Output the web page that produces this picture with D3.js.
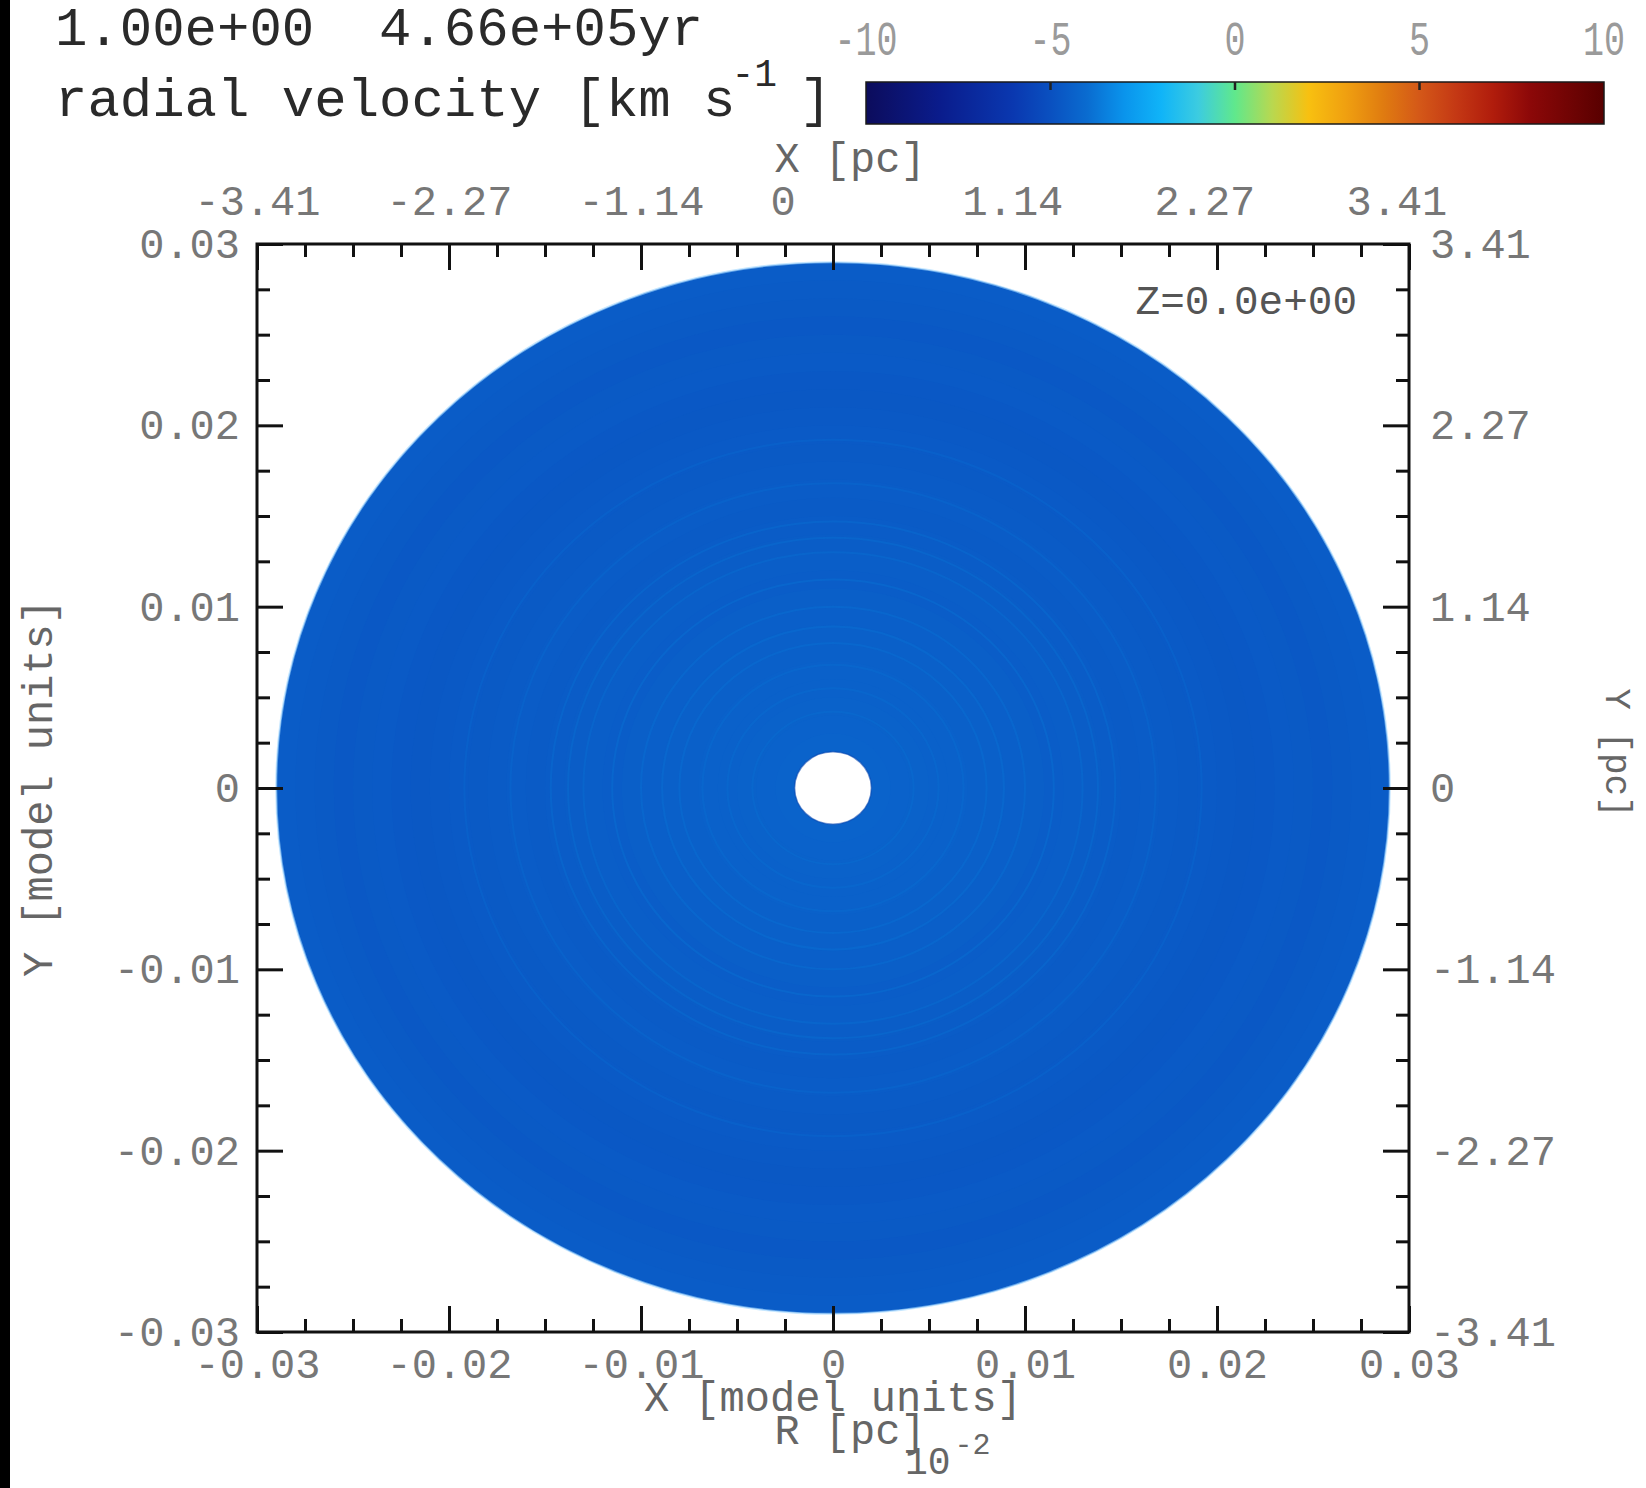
<!DOCTYPE html>
<html>
<head>
<meta charset="utf-8">
<script src="https://cdn.jsdelivr.net/npm/d3@7"></script>
<style>
  html, body { margin: 0; padding: 0; background: #ffffff; }
  svg { display: block; }
  text { font-family: "Liberation Mono", "Courier New", monospace; white-space: pre; }
</style>
</head>
<body>
<svg id="chart" width="1646" height="1488"></svg>
<script>
// ---- header texts ----
const stepLabel = "1.00e+00";
const timeLabel = "4.66e+05yr";
const quantityLabel = "radial velocity [km s";
const quantityExponent = "-1";
const sliceLabel = "Z=0.0e+00";

// ---- colour bar ----
const colorbarDomain = [-10, 10];
const colorbarTicks = [-10, -5, 0, 5, 10];
// velocity palette stops (km/s -> colour)
const paletteValues = [-10, -8, -6, -5, -4, -3, -2, -1, 0, 1, 2, 3, 4, 5, 6, 7, 8, 10];
const paletteColors = ["#0c0c5c", "#0a1c8c", "#0a38b0", "#0a50c0", "#0a6cd0", "#0a94ec",
                       "#10b4f8", "#3ccce0", "#60e88c", "#b8d850", "#f8c010", "#f0a010",
                       "#e07c10", "#d45818", "#c43814", "#b01c0c", "#8c0808", "#580000"];

// ---- axes ----
const modelDomain = [-0.03, 0.03];
const modelTicks = [-0.03, -0.02, -0.01, 0, 0.01, 0.02, 0.03];
const modelTickLabels = ["-0.03", "-0.02", "-0.01", "0", "0.01", "0.02", "0.03"];
const pcTickLabels = ["-3.41", "-2.27", "-1.14", "0", "1.14", "2.27", "3.41"];
const minorStep = 0.0025;

// ---- radial shells of the slice (model units, km/s) ----
const shellOuterRadius = [0.0290, 0.0280, 0.0270, 0.0260, 0.0250, 0.0240, 0.0230, 0.0220,
                          0.0210, 0.0200, 0.0190, 0.0180, 0.0170, 0.0160, 0.0150, 0.0140,
                          0.0130, 0.0120, 0.0110, 0.0100, 0.0090, 0.0080, 0.0070, 0.0060,
                          0.0050, 0.0040, 0.0030];
const shellVelocity = [-4.58, -4.62, -4.66, -4.70, -4.66, -4.64, -4.70, -4.72,
                       -4.68, -4.64, -4.66, -4.62, -4.58, -4.60, -4.56, -4.54,
                       -4.50, -4.52, -4.48, -4.46, -4.44, -4.42, -4.40, -4.38,
                       -4.36, -4.34, -4.32];
const holeRadius = 0.002;
// thin shell boundaries that read a little faster
const ringRadius = [0.0042, 0.0055, 0.0068, 0.0080, 0.0089, 0.0100, 0.0115, 0.0130,
                    0.0138, 0.0147, 0.0168, 0.0192];
const ringVelocity = [-4.00, -4.00, -4.00, -3.95, -3.95, -3.95, -3.95, -4.00,
                      -4.00, -4.05, -4.15, -4.20];

// ------------------------------------------------------------------
const svg = d3.select("#chart");
const W = 1646, H = 1488;
svg.append("rect").attr("width", W).attr("height", H).attr("fill", "#ffffff");
svg.append("rect").attr("x", 0).attr("y", 0).attr("width", 10).attr("height", H).attr("fill", "#000000");

const frame = { left: 257, right: 1409, top: 244, bottom: 1332 };
const x = d3.scaleLinear().domain(modelDomain).range([frame.left, frame.right]);
const y = d3.scaleLinear().domain(modelDomain).range([frame.bottom, frame.top]);
const color = d3.scaleLinear().domain(paletteValues).range(paletteColors)
  .interpolate(d3.interpolateRgb).clamp(true);

const INK = "#111111";
const LABEL = "#777777";
const TITLE = "#666666";

// ---- disk ----
const disk = svg.append("g");
const rx = r => x(r) - x(0);
const ry = r => y(0) - y(r);

disk.selectAll("ellipse.shell")
  .data(shellOuterRadius.map((r, i) => ({ r, v: shellVelocity[i] })))
  .join("ellipse")
  .attr("class", "shell")
  .attr("cx", x(0)).attr("cy", y(0))
  .attr("rx", d => rx(d.r)).attr("ry", d => ry(d.r))
  .attr("fill", d => color(d.v));

disk.selectAll("ellipse.ring")
  .data(ringRadius.map((r, i) => ({ r, v: ringVelocity[i] })))
  .join("ellipse")
  .attr("class", "ring")
  .attr("cx", x(0)).attr("cy", y(0))
  .attr("rx", d => rx(d.r)).attr("ry", d => ry(d.r))
  .attr("fill", "none")
  .attr("stroke", d => color(d.v))
  .attr("stroke-opacity", 0.55)
  .attr("stroke-width", 2);

// soft rim of the outer shell
disk.append("ellipse")
  .attr("cx", x(0)).attr("cy", y(0))
  .attr("rx", rx(shellOuterRadius[0])).attr("ry", ry(shellOuterRadius[0]))
  .attr("fill", "none").attr("stroke", "#9fd6ff").attr("stroke-width", 2).attr("stroke-opacity", 0.6);

// central hole
disk.append("ellipse")
  .attr("cx", x(0)).attr("cy", y(0))
  .attr("rx", rx(holeRadius)).attr("ry", ry(holeRadius))
  .attr("fill", "#ffffff").attr("stroke", "#0a48b0").attr("stroke-width", 1.5).attr("stroke-opacity", 0.6);

// ---- axes ----
const minorTicks = d3.range(modelDomain[0], modelDomain[1] + minorStep / 2, minorStep)
  .filter(v => !modelTicks.some(t => Math.abs(t - v) < 1e-9));
const fmtModel = v => modelTickLabels[modelTicks.findIndex(t => Math.abs(t - v) < 1e-9)];
const fmtPc = v => pcTickLabels[modelTicks.findIndex(t => Math.abs(t - v) < 1e-9)];
const TICK_FONT = 42;
const charW = TICK_FONT * 0.6;

function styleAxis(g) {
  g.attr("font-family", null).attr("font-size", null);
  g.select(".domain").remove();
  g.selectAll(".tick line").attr("stroke", INK).attr("stroke-width", 3);
  g.selectAll(".tick text").attr("fill", LABEL).attr("font-size", TICK_FONT);
}

function addAxis(axisFn, scale, transform, labelFmt, pad) {
  const major = svg.append("g").attr("transform", transform)
    .call(axisFn(scale).tickValues(modelTicks).tickSize(-26).tickPadding(pad).tickFormat(labelFmt));
  styleAxis(major);
  const minor = svg.append("g").attr("transform", transform)
    .call(axisFn(scale).tickValues(minorTicks).tickSize(-13).tickFormat(""));
  styleAxis(minor);
  return major;
}

addAxis(d3.axisBottom, x, `translate(0,${frame.bottom})`, fmtModel, 16);
const topAxis = addAxis(d3.axisTop, x, `translate(0,${frame.top})`, fmtPc, 29);
// top labels sit left-justified in a five-character field
topAxis.selectAll(".tick text").attr("text-anchor", "start").attr("x", -2.5 * charW);
addAxis(d3.axisLeft, y, `translate(${frame.left},0)`, fmtModel, 17);
addAxis(d3.axisRight, y, `translate(${frame.right},0)`, fmtPc, 21);

// frame
svg.append("rect")
  .attr("x", frame.left).attr("y", frame.top)
  .attr("width", frame.right - frame.left).attr("height", frame.bottom - frame.top)
  .attr("fill", "none").attr("stroke", INK).attr("stroke-width", 3);

// ---- axis titles ----
const cxFrame = (frame.left + frame.right) / 2;
const cyFrame = (frame.top + frame.bottom) / 2;
svg.append("text").attr("x", cxFrame + 17).attr("y", 172).attr("text-anchor", "middle")
  .attr("font-size", 42).attr("fill", TITLE).text("X [pc]");
svg.append("text").attr("x", cxFrame).attr("y", 1411).attr("text-anchor", "middle")
  .attr("font-size", 42).attr("fill", TITLE).text("X [model units]");
svg.append("text").attr("x", cxFrame + 17).attr("y", 1444).attr("text-anchor", "middle")
  .attr("font-size", 42).attr("fill", TITLE).text("R [pc]");
const sci = svg.append("text").attr("x", 905).attr("y", 1474).attr("font-size", 38).attr("fill", TITLE);
sci.append("tspan").text("10");
sci.append("tspan").attr("font-size", 30).attr("dy", -20).attr("dx", 4).text("-2");
svg.append("text")
  .attr("transform", `translate(52,${cyFrame}) rotate(-90)`)
  .attr("text-anchor", "middle").attr("font-size", 42).attr("fill", TITLE)
  .text("Y [model units]");
svg.append("text")
  .attr("transform", `translate(1606,${cyFrame - 35}) rotate(90)`)
  .attr("text-anchor", "middle").attr("font-size", 36).attr("fill", TITLE)
  .text("Y [pc]");
svg.append("text").attr("x", 1357).attr("y", 314).attr("text-anchor", "end")
  .attr("font-size", 41).attr("fill", "#555555").text(sliceLabel);

// ---- header ----
svg.append("text").attr("x", 55).attr("y", 45).attr("font-size", 54).attr("fill", "#2a2a2a")
  .text(stepLabel + "  " + timeLabel);
const q = svg.append("text").attr("x", 55).attr("y", 116).attr("font-size", 54).attr("fill", "#2a2a2a");
q.append("tspan").text(quantityLabel);
q.append("tspan").attr("font-size", 38).attr("dy", -30).attr("dx", -4).text(quantityExponent);
q.append("tspan").attr("dy", 30).attr("dx", 22).text("]");

// ---- colour bar ----
const cb = { left: 866, right: 1604, top: 82, bottom: 124 };
const cbx = d3.scaleLinear().domain(colorbarDomain).range([cb.left, cb.right]);
const grad = svg.append("defs").append("linearGradient").attr("id", "velocityGrad")
  .attr("x1", "0%").attr("x2", "100%").attr("y1", "0%").attr("y2", "0%");
grad.selectAll("stop").data(d3.range(0, 41).map(i => colorbarDomain[0] + i * 0.5))
  .join("stop")
  .attr("offset", v => ((v - colorbarDomain[0]) / (colorbarDomain[1] - colorbarDomain[0]) * 100) + "%")
  .attr("stop-color", v => color(v));
svg.append("rect")
  .attr("x", cb.left).attr("y", cb.top)
  .attr("width", cb.right - cb.left).attr("height", cb.bottom - cb.top)
  .attr("fill", "url(#velocityGrad)")
  .attr("stroke", "#1a1a1a").attr("stroke-width", 1.5);
svg.selectAll("line.cbtick").data(colorbarTicks.slice(1, -1)).join("line")
  .attr("class", "cbtick")
  .attr("x1", v => cbx(v)).attr("x2", v => cbx(v))
  .attr("y1", cb.top).attr("y2", cb.top + 8)
  .attr("stroke", "#222222").attr("stroke-width", 2.5);
svg.selectAll("text.cblabel").data(colorbarTicks).join("text")
  .attr("class", "cblabel")
  .attr("transform", v => `translate(${cbx(v)},55) scale(1,1.4)`)
  .attr("text-anchor", "middle").attr("font-size", 35).attr("fill", "#9a9a9a")
  .text(v => String(v));
</script>
</body>
</html>
